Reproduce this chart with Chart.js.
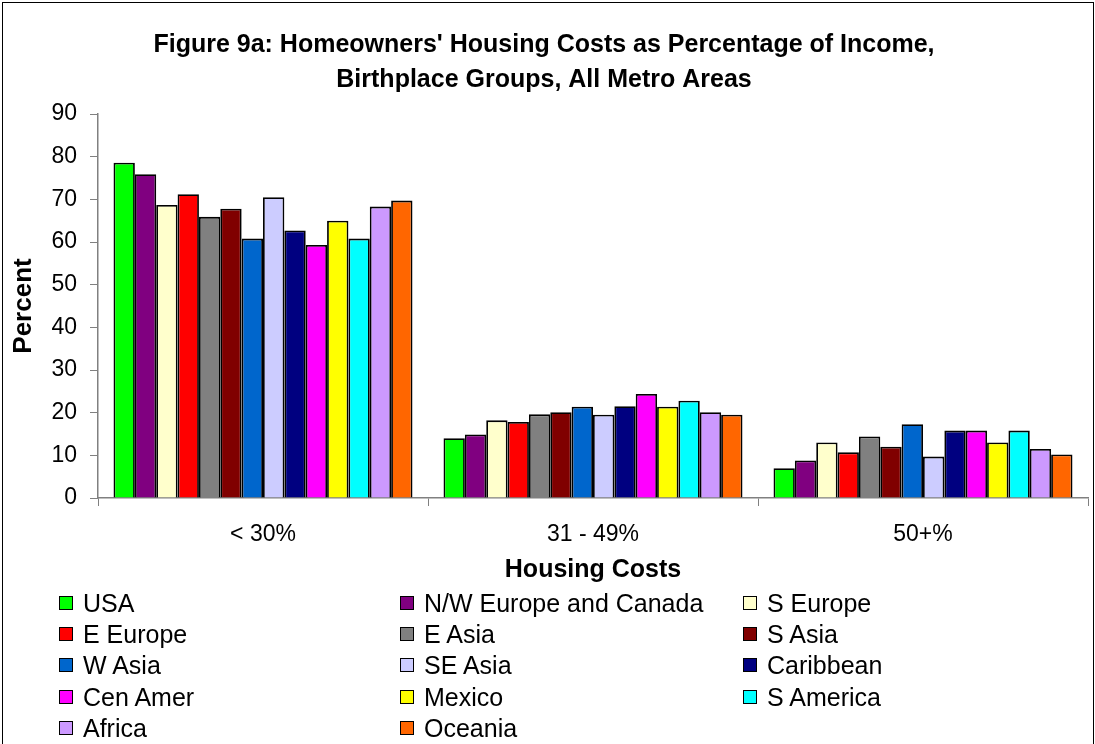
<!DOCTYPE html>
<html>
<head>
<meta charset="utf-8">
<script src="https://cdn.jsdelivr.net/npm/chart.js@4.4.1/dist/chart.umd.min.js"></script>
<style>
  body { margin: 0; background: #fff; }
  #wrap { position: relative; width: 1095px; height: 744px; overflow: hidden; }
  #frame { position: absolute; left: 2px; top: 2px; width: 1090px; height: 750px; border: 1px solid #000; pointer-events: none; }
  #legend { position: absolute; left: 0; top: 0; font-family: "Liberation Sans", Arial, sans-serif; font-size: 25px; color: #000; }
  .item { position: absolute; white-space: nowrap; line-height: 28px; }
  .box { position: absolute; width: 12px; height: 12px; border: 1.5px solid #000; }
</style>
</head>
<body>
<div id="wrap">
  <canvas id="myChart" width="1095" height="744"></canvas>
  <div id="legend"></div>
  <div id="frame"></div>
</div>
<script>
var categories = ['< 30%', '31 - 49%', '50+%'];
var groups = ['USA', 'N/W Europe and Canada', 'S Europe', 'E Europe', 'E Asia', 'S Asia',
              'W Asia', 'SE Asia', 'Caribbean', 'Cen Amer', 'Mexico', 'S America', 'Africa', 'Oceania'];
var colors = ['#00FF00', '#800080', '#FFFFCC', '#FF0000', '#808080', '#800000',
              '#0066CC', '#CCCCFF', '#000080', '#FF00FF', '#FFFF00', '#00FFFF', '#CC99FF', '#FF6600'];

// percent of homeowners in each housing cost band
var under30 = [78.6, 75.9, 68.7, 71.2, 65.9, 67.8, 60.8, 70.5, 62.7, 59.3, 65.0, 60.8, 68.3, 69.7];
var from31to49 = [14.0, 14.9, 18.2, 17.8, 19.6, 20.1, 21.4, 19.5, 21.5, 24.4, 21.4, 22.8, 20.1, 19.5];
var over50 = [7.0, 8.8, 13.0, 10.7, 14.4, 12.0, 17.3, 9.7, 15.8, 15.8, 13.0, 15.8, 11.5, 10.2];

var font = '"Liberation Sans", Arial, sans-serif';
Chart.defaults.font.family = font;
Chart.defaults.color = '#000';

var datasets = [];
for (var i in groups) {
    datasets.push({
        label: groups[i],
        data: [under30[i], from31to49[i], over50[i]],
        backgroundColor: colors[i],
        borderColor: '#000',
        borderWidth: 1.8,
        categoryPercentage: 0.906,
        barPercentage: 1.0
    });
}

var chart = new Chart('myChart', {
    type: 'bar',
    data: { labels: categories, datasets: datasets },
    options: {
        responsive: false,
        animation: false,
        layout: { padding: { left: 0, right: 7, top: 0, bottom: 159 } },
        plugins: {
            legend: { display: false },
            tooltip: { enabled: false },
            title: {
                display: true,
                text: ["Figure 9a: Homeowners' Housing Costs as Percentage of Income,",
                       'Birthplace Groups, All Metro Areas'],
                font: { size: 25, weight: 'bold', lineHeight: '35px' },
                padding: { top: 27.5, bottom: 16.5 }
            }
        },
        scales: {
            x: {
                grid: { offset: true, drawOnChartArea: false, tickLength: 8, color: '#808080' },
                border: { color: '#808080', width: 1.5 },
                ticks: { font: { size: 23 }, padding: 15 },
                title: { display: true, text: 'Housing Costs', font: { size: 25, weight: 'bold' }, padding: 0 },
                afterFit: function(scale) { scale.height = 87; }
            },
            y: {
                min: 0,
                max: 90,
                grid: { drawOnChartArea: false, tickLength: 8, color: '#808080' },
                border: { color: '#808080', width: 1.5 },
                ticks: { stepSize: 10, font: { size: 23 }, padding: 13 },
                title: { display: true, text: 'Percent', font: { size: 26, weight: 'bold' }, padding: { top: 8, bottom: 0 } },
                afterFit: function(scale) { scale.width = 98; }
            }
        }
    }
});

// legend in three columns like the original
var colX = [59, 400, 743];
var rowY = [603, 634, 665, 697, 728];
var legend = document.getElementById('legend');
for (var k = 0; k < groups.length; k++) {
    var cx = colX[k % 3];
    var cy = rowY[Math.floor(k / 3)];
    var box = document.createElement('div');
    box.className = 'box';
    box.style.left = cx + 'px';
    box.style.top = (cy - 7) + 'px';
    box.style.background = colors[k];
    legend.appendChild(box);
    var txt = document.createElement('div');
    txt.className = 'item';
    txt.style.left = (cx + 24) + 'px';
    txt.style.top = (cy - 14) + 'px';
    txt.textContent = groups[k];
    legend.appendChild(txt);
}
</script>
</body>
</html>
